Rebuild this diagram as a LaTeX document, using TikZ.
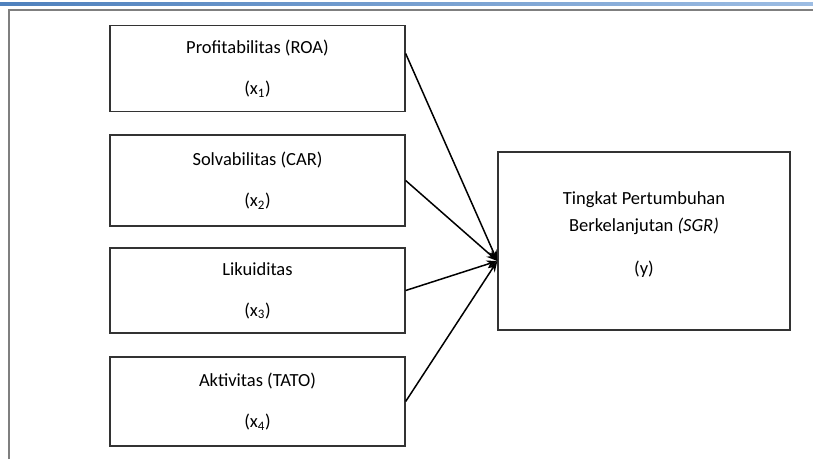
\documentclass[tikz,border=0pt]{standalone}
\usepackage{xcolor}
\usepackage{tikz}
\usepackage{fontspec}
\setmainfont{Carlito}
\usetikzlibrary{shapes, arrows.meta, positioning}

\definecolor{framegray}{HTML}{7F7F7F}
\definecolor{topblue}{HTML}{4F81BD}
\definecolor{topblue2}{HTML}{9DBDE3}

\begin{document}
\begin{tikzpicture}[x=1pt,y=-1pt]
        \useasboundingbox (0,0) rectangle (813,459);
        % page frame
        \shade[left color=topblue, right color=topblue2] (0,2) rectangle (813,5);
        \draw[framegray, line width=1.2pt] (9,459) -- (9,10) -- (813,10);
        \begin{scope}[every node/.style={draw=black!80,line width=1.3pt,rectangle,inner sep=0pt,
            minimum width=295pt,align=center,font=\fontsize{18.5}{27}\selectfont}]
          \node[minimum height=86pt] (roa) at (257.5,68.5) {Profitabilitas (ROA)\\[14pt](x\textsubscript{1})};
          \node[minimum height=91pt] (car) at (257.5,180.5) {Solvabilitas (CAR)\\[14pt](x\textsubscript{2})};
          \node[minimum height=85pt] (lik) at (257.5,290.5) {Likuiditas\\[14pt](x\textsubscript{3})};
          \node[minimum height=89pt] (tato) at (257.5,401.5) {Aktivitas (TATO)\\[14pt](x\textsubscript{4})};
          \node[minimum width=292pt,minimum height=178pt] (sgr) at (644,241)
            {Tingkat Pertumbuhan\\Berkelanjutan \textit{(SGR)}\\[16pt](y)\\[-11pt]};
        \end{scope}
        \coordinate (tip) at ([yshift=-20pt]sgr.west);
        \begin{scope}[every edge/.style={draw=black,line width=1.5pt,-{Stealth[length=11pt,width=8pt]}}]
          \path ([yshift=15pt]roa.east) edge (tip);
          \path (car.east) edge (tip);
          \path (lik.east) edge (tip);
          \path (tato.east) edge (tip);
        \end{scope}
      \end{tikzpicture}
\end{document}
